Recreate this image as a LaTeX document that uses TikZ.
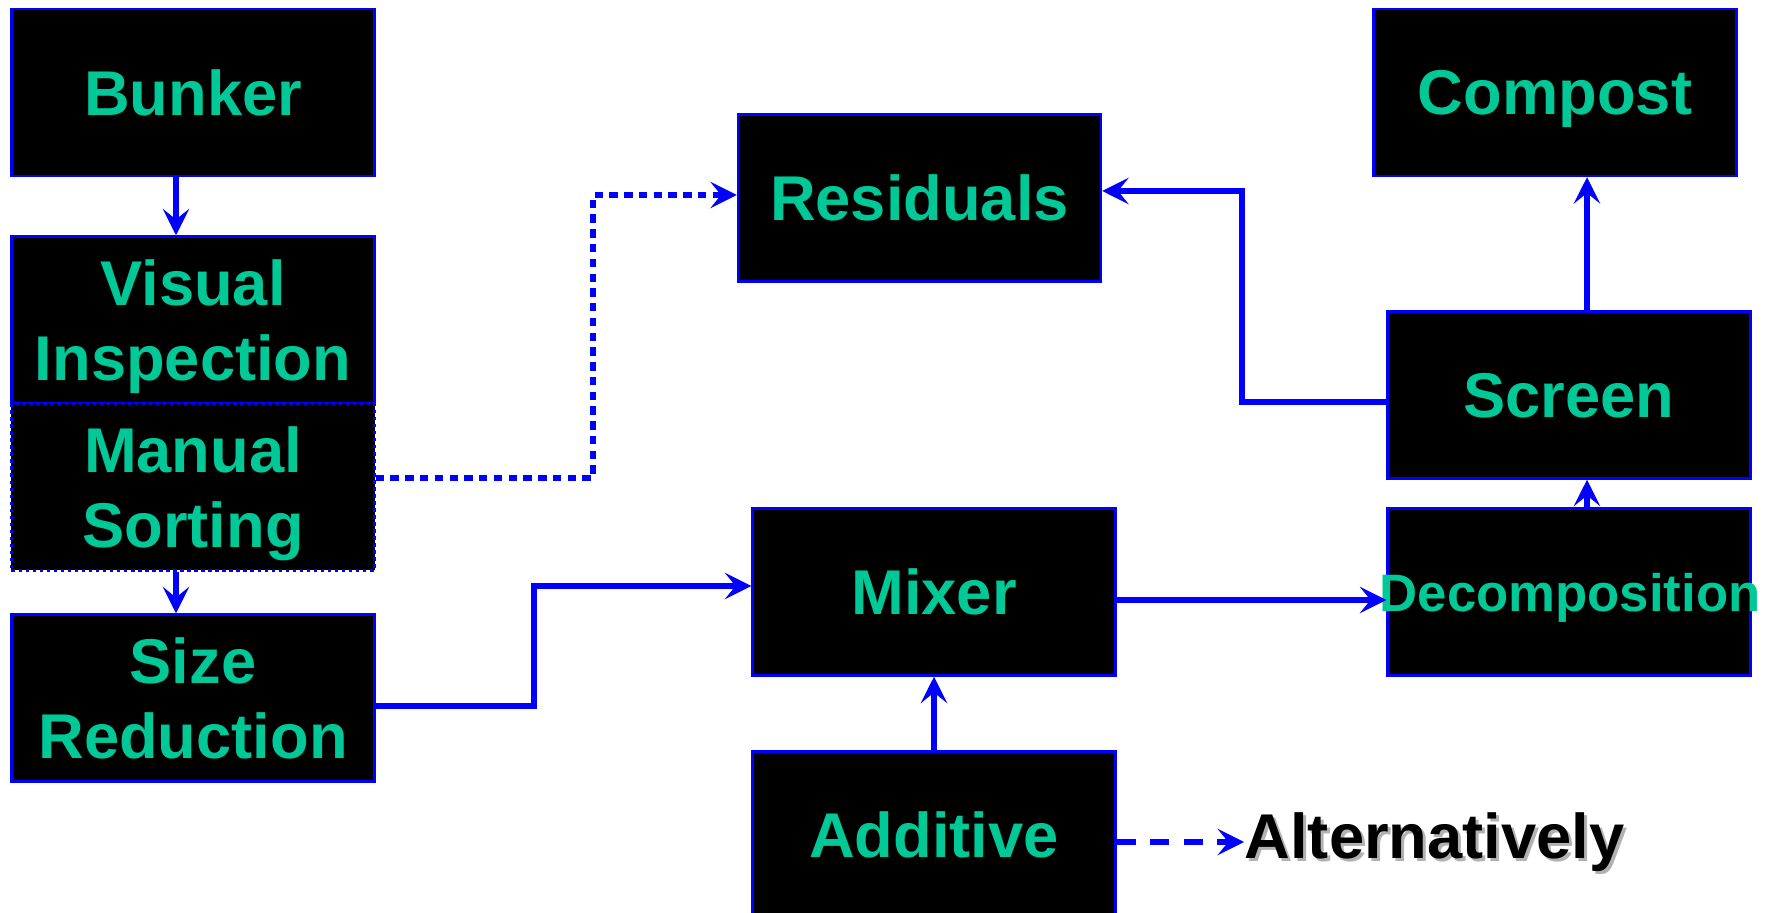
\documentclass[tikz,border=0pt]{standalone}
\usepackage{fontspec}
\setmainfont{Liberation Sans}
\usetikzlibrary{arrows.meta}
\definecolor{flowblue}{RGB}{0,0,255}
\definecolor{flowgreen}{RGB}{0,200,150}
\begin{document}
\begin{tikzpicture}[
    >={Stealth[length=7.5pt, width=7.5pt, inset=3pt]},
    font=\bfseries\fontsize{18}{21.5}\selectfont,
    stage/.style={rectangle, draw=flowblue, line width=0.7pt, fill=black, text=flowgreen, align=center, text depth=0pt, minimum width=3.63cm, minimum height=1.67cm, inner sep=0pt},
    dotstage/.style={stage, dash pattern=on 1pt off 1pt},
    link/.style={draw=flowblue, line width=1.5pt},
    dotlink/.style={link, dash pattern=on 2.4pt off 1.8pt},
    dashlink/.style={link, dash pattern=on 5.5pt off 4pt}
]

    % 0. Canvas
    \useasboundingbox (0,0) rectangle (17.81,-9.13);
    \clip (0,0) rectangle (17.81,-9.13);

    % 1. Left column
    \node[stage] (bunker) at (1.93, -0.925) {Bunker};
    \node[stage] (visual) at (1.93, -3.20) {Visual\\Inspection};
    \node[dotstage] (manual) at (1.93, -4.87) {Manual\\Sorting};
    \node[stage] (size) at (1.93, -6.98) {Size\\Reduction};

    % Arrows: down the left column
    \draw[link, ->] (bunker.south -| 1.76, 0) -- (visual.north -| 1.76, 0);
    \draw[link, ->] (manual.south -| 1.76, 0) -- (size.north -| 1.76, 0);

    % 2. Residuals
    \node[stage] (res) at (9.195, -1.98) {Residuals};
    \coordinate (dbend) at (5.93, -1.95);
    \draw[dotlink, ->] (manual.east |- 0, -4.78) -| (dbend) -- (res.west |- dbend);

    % 3. Mixer and Additive
    \node[stage] (mixer) at (9.34, -5.92) {Mixer};
    \node[stage] (additive) at (9.34, -8.35) {Additive};
    \coordinate (sbend) at (5.34, -5.86);
    \draw[link, ->] (size.east |- 0, -7.06) -| (sbend) -- (mixer.west |- sbend);
    \draw[link, ->] (additive.north) -- (mixer.south);

    % 4. Right column
    \node[stage] (compost) at (15.55, -0.925) {Compost};
    \node[stage] (screen) at (15.69, -3.95) {Screen};
    \node[stage] (decomp) at (15.69, -5.92) {\makebox[0pt]{\fontsize{15}{18}\selectfont\hspace{0.02cm}Decomposition}};

    % Arrows: right column
    \draw[link, ->] (mixer.east |- 0, -6.00) -- (decomp.west |- 0, -6.00);
    \draw[link, ->] (decomp.north -| 15.87, 0) -- (screen.south -| 15.87, 0);
    \draw[link, ->] (screen.north -| 15.87, 0) -- (compost.south -| 15.87, 0);
    \coordinate (rbend) at (12.42, -1.91);
    \draw[link, ->] (screen.west |- 0, -4.02) -| (rbend) -- (res.east |- rbend);

    % 5. Alternatively
    \node[anchor=west, inner sep=0pt, text=black!30] (altshadow) at (12.47, -8.45) {Alternatively};
    \node[anchor=west, inner sep=0pt, text=black] (alt) at (12.44, -8.42) {Alternatively};
    \draw[dashlink, ->] (additive.east |- alt.west) -- (alt.west);

\end{tikzpicture}
\end{document}
